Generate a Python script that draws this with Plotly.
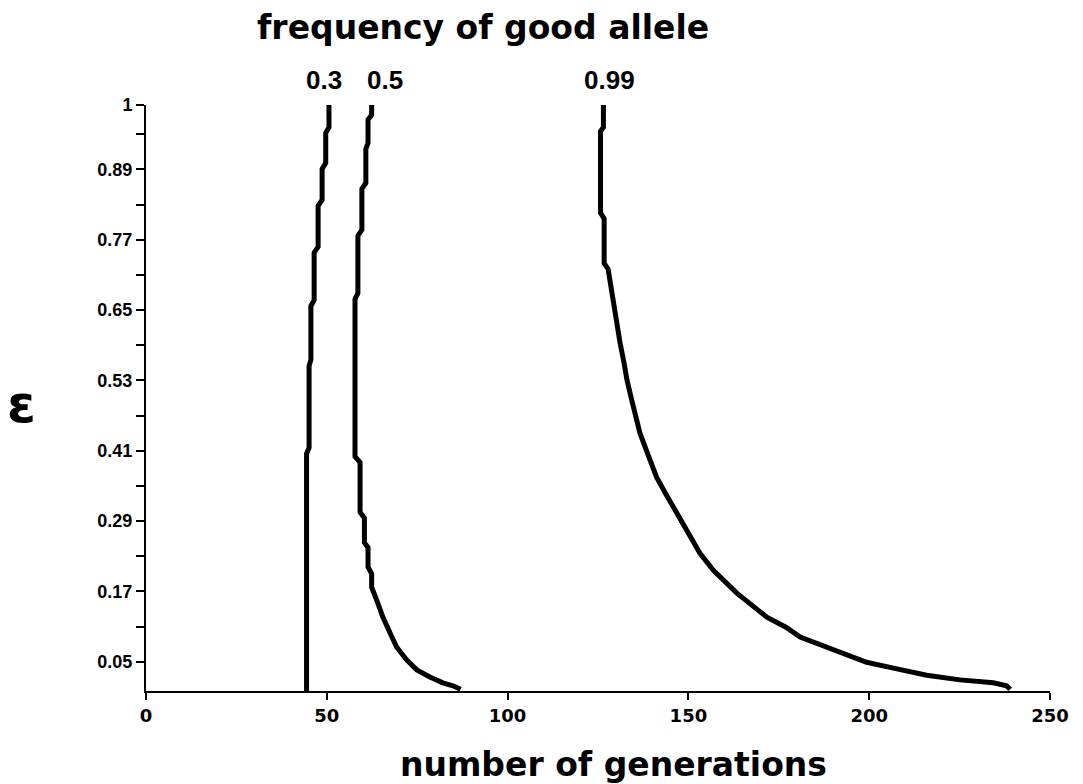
import plotly.graph_objects as go

# Generations needed to reach fixation for each starting frequency, as a function of epsilon
eps_03 = [1.0, 0.962, 0.952, 0.901, 0.891, 0.838, 0.828, 0.758, 0.748, 0.667, 0.657, 0.565, 0.555, 0.415, 0.405, 0.0]
gen_03 = [50.6, 50.6, 49.7, 49.7, 48.7, 48.7, 47.6, 47.6, 46.5, 46.5, 45.6, 45.6, 45.1, 45.1, 44.4, 44.4]

eps_05 = [1.0, 0.983, 0.975, 0.935, 0.925, 0.867, 0.857, 0.787, 0.777, 0.679, 0.669, 0.40, 0.39,
          0.305, 0.295, 0.253, 0.245, 0.212, 0.20, 0.177, 0.155, 0.126, 0.099, 0.075, 0.053,
          0.036, 0.024, 0.014, 0.009, 0.003]
gen_05 = [62.4, 62.4, 61.4, 61.4, 60.8, 60.8, 59.7, 59.7, 58.6, 58.6, 57.8, 57.8, 59.2,
          59.2, 60.4, 60.4, 61.4, 61.4, 62.4, 62.4, 63.8, 65.5, 67.5, 69.3, 72.1,
          74.9, 78.5, 82.1, 84.9, 87.0]

eps_099 = [1.0, 0.962, 0.955, 0.816, 0.806, 0.730, 0.72, 0.679, 0.633, 0.594, 0.560, 0.531,
           0.497, 0.440, 0.394, 0.365, 0.338, 0.304, 0.270, 0.235, 0.206, 0.167, 0.126,
           0.108, 0.092, 0.075, 0.049, 0.039, 0.027, 0.019, 0.014, 0.009, 0.003]
gen_099 = [126.5, 126.5, 125.7, 125.7, 126.7, 126.7, 127.8, 128.8, 130.0, 131.1, 132.2, 133.0,
           134.3, 136.6, 139.4, 141.2, 143.6, 146.8, 150.0, 153.2, 156.9, 163.4, 171.7,
           177.2, 180.9, 188.2, 199.3, 206.7, 215.9, 225.1, 234.3, 238.0, 239.0]

curve_labels = ["0.3", "0.5", "0.99"]
label_x = [49.2, 66.1, 128.3]

y_ticks = [0.05, 0.17, 0.29, 0.41, 0.53, 0.65, 0.77, 0.89, 1.0]
y_ticktext = ["0.05", "0.17", "0.29", "0.41", "0.53", "0.65", "0.77", "0.89", "1"]
x_ticks = [0, 50, 100, 150, 200, 250]

fig = go.Figure()
for g, e in [(gen_03, eps_03), (gen_05, eps_05), (gen_099, eps_099)]:
    fig.add_trace(go.Scatter(x=g, y=e, mode="lines",
                             line=dict(color="black", width=5),
                             showlegend=False, cliponaxis=False))

x_tick_font = dict(family="DejaVu Sans", size=18, color="black", weight="bold")
y_tick_font = dict(family="Liberation Sans", size=18, color="black", weight="bold")

fig.update_layout(
    width=1083, height=784,
    margin=dict(l=146, r=33, t=105, b=93),
    paper_bgcolor="white", plot_bgcolor="white",
    xaxis=dict(range=[0, 250], tickvals=x_ticks, showgrid=False, zeroline=False,
               showline=True, linecolor="black", linewidth=2,
               ticks="outside", ticklen=7, tickwidth=2, tickcolor="black",
               tickfont=x_tick_font),
    yaxis=dict(range=[0, 1], tickvals=y_ticks, ticktext=y_ticktext, showgrid=False,
               zeroline=False, showline=True, linecolor="black", linewidth=2,
               ticks="outside", ticklen=8, tickwidth=2, tickcolor="black",
               tickfont=y_tick_font,
               minor=dict(tick0=0.05, dtick=0.06, ticks="outside", ticklen=8,
                          tickwidth=2, tickcolor="black", showgrid=False)),
)


def paper_y(px):
    return (691 - px) / 586


def paper_x(px):
    return (px - 146) / 904


fig.add_annotation(text="frequency of good allele", xref="paper", yref="paper",
                   x=paper_x(483), y=paper_y(28), xanchor="center", yanchor="middle",
                   showarrow=False,
                   font=dict(family="DejaVu Sans", size=33, color="black", weight="bold"))
fig.add_annotation(text="number of generations", xref="paper", yref="paper",
                   x=paper_x(613), y=paper_y(765), xanchor="center", yanchor="middle",
                   showarrow=False,
                   font=dict(family="DejaVu Sans", size=33, color="black", weight="bold"))
fig.add_annotation(text="ε", xref="paper", yref="paper",
                   x=paper_x(21), y=paper_y(404), xanchor="center", yanchor="middle",
                   showarrow=False,
                   font=dict(family="DejaVu Sans", size=52, color="black", weight="bold"))

for lab, lx in zip(curve_labels, label_x):
    fig.add_annotation(text=lab, x=lx, xref="x", yref="paper",
                       y=paper_y(80), xanchor="center", yanchor="middle", showarrow=False,
                       font=dict(family="Liberation Sans", size=26, color="black",
                                 weight="bold"))

fig.write_html("out.html")
